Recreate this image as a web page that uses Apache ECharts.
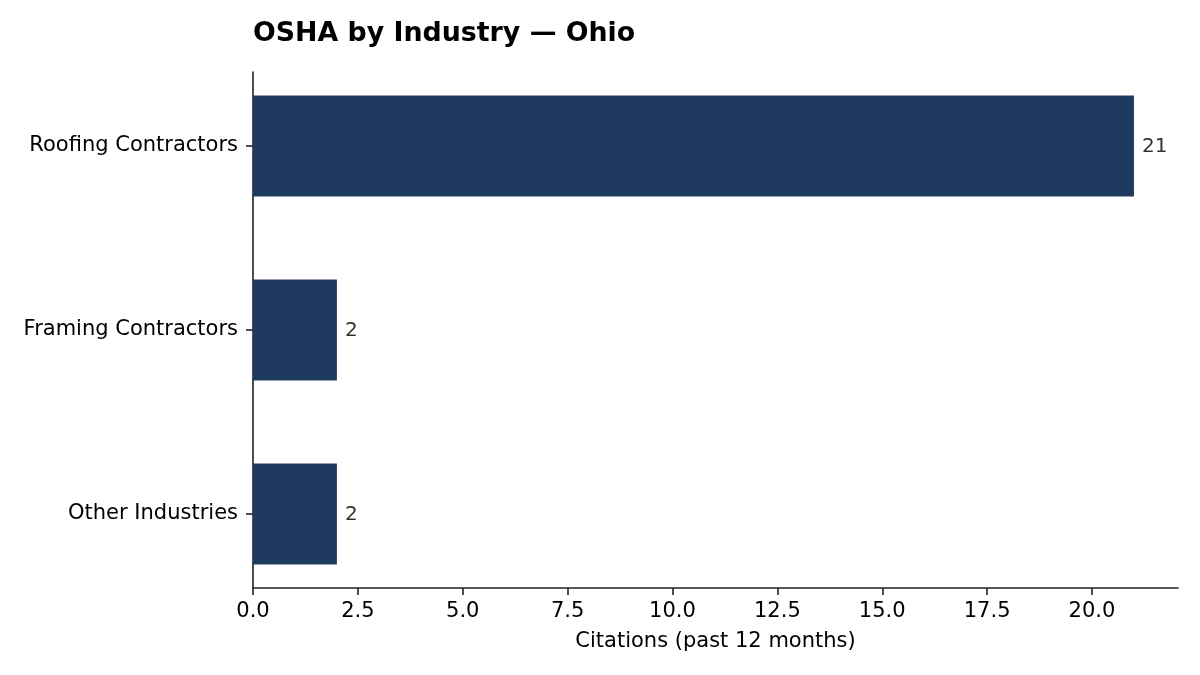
<!DOCTYPE html>
<html>
<head>
<meta charset="utf-8">
<title>OSHA by Industry — Ohio</title>
<script src="https://cdn.jsdelivr.net/npm/echarts@6/dist/echarts.min.js"></script>
<style>
  html, body { margin: 0; padding: 0; background: #fff; }
  #chart { width: 1200px; height: 675px; }
</style>
</head>
<body>
<div id="chart"></div>
<script>
// data
const industries = ["Roofing Contractors", "Framing Contractors", "Other Industries"];
const citations = [21, 2, 2];
const xTicks = [0, 2.5, 5, 7.5, 10, 12.5, 15, 17.5, 20];

const FONT = "'DejaVu Sans', sans-serif";
const xMax = 22.05; // 5% margin past the longest bar
const axisColor = "#222";

var myChart = echarts.init(document.getElementById("chart"));

myChart.setOption({
  animation: false,
  title: {
    text: "OSHA by Industry — Ohio",
    left: 248,
    top: 16,
    textStyle: { fontFamily: FONT, fontSize: 26.8, fontWeight: "bold", color: "#000" },
  },
  // grid 0 holds the bars (bands of 184px), grid 1 draws the spines / x ticks
  grid: [
    { left: 253, right: 22, top: 54, height: 552 },
    { left: 253, right: 22, top: 72, height: 516 },
  ],
  xAxis: [
    {
      gridIndex: 0,
      type: "value",
      min: 0,
      max: xMax,
      show: false,
    },
    {
      gridIndex: 1,
      type: "value",
      min: 0,
      max: xMax,
      interval: 2.5,
      name: "Citations (past 12 months)",
      nameLocation: "middle",
      nameGap: 43,
      nameTextStyle: { fontFamily: FONT, fontSize: 21, color: "#000" },
      axisLine: { show: true, lineStyle: { color: axisColor, width: 1.6 } },
      axisTick: { show: true, length: 7, lineStyle: { color: axisColor, width: 1.6 } },
      splitLine: { show: false },
      axisLabel: {
        fontFamily: FONT,
        fontSize: 21,
        color: "#000",
        margin: 13,
        showMaxLabel: false,
        formatter: (v) => (xTicks.indexOf(v) >= 0 ? v.toFixed(1) : ""),
      },
    },
  ],
  yAxis: [
    {
      gridIndex: 0,
      type: "category",
      data: industries,
      inverse: true,
      axisLine: { show: false },
      axisTick: { show: true, alignWithLabel: true, length: 7, lineStyle: { color: axisColor, width: 1.6 } },
      axisLabel: { fontFamily: FONT, fontSize: 21, color: "#000", margin: 15, padding: [6, 0, 0, 0] },
      splitLine: { show: false },
    },
    {
      gridIndex: 1,
      type: "value",
      min: 0,
      max: 1,
      axisLine: { show: true, lineStyle: { color: axisColor, width: 1.6 } },
      axisTick: { show: false },
      axisLabel: { show: false },
      splitLine: { show: false },
    },
  ],
  series: [
    {
      type: "bar",
      xAxisIndex: 0,
      yAxisIndex: 0,
      data: citations,
      barWidth: 101,
      itemStyle: { color: "#1f3a5f" },
      label: {
        show: true,
        position: "right",
        distance: 8,
        offset: [0, 1],
        fontFamily: FONT,
        fontSize: 20,
        color: "#333",
      },
    },
  ],
});
</script>
</body>
</html>
